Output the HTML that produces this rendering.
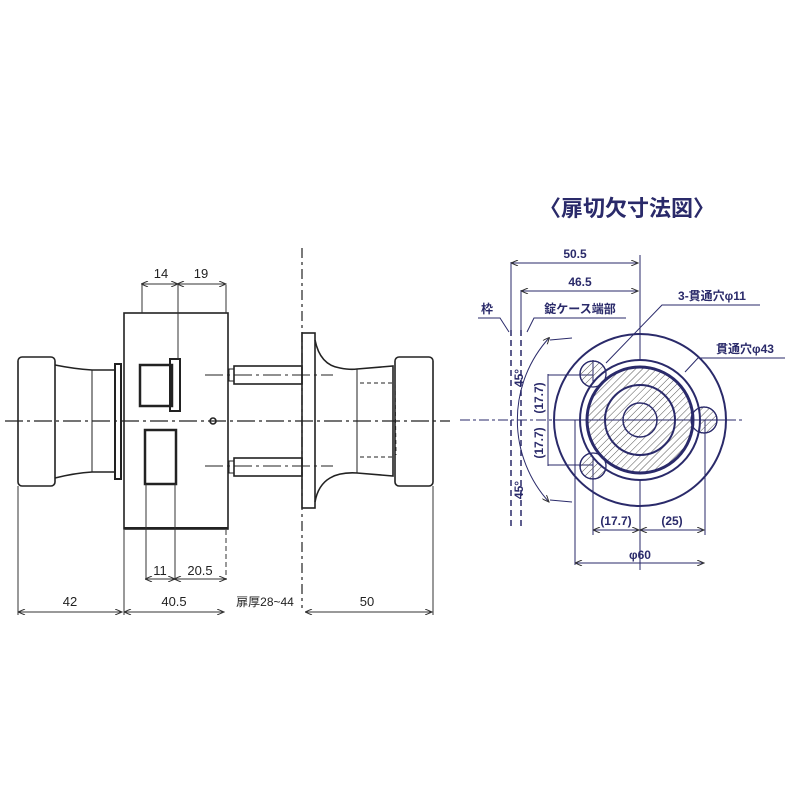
<!DOCTYPE html>
<html><head><meta charset="utf-8"><style>
html,body{margin:0;padding:0;background:#fff;}
svg{display:block}
text{font-family:"Liberation Sans","Noto Sans CJK JP",sans-serif;}
</style></head><body>
<svg width="800" height="800" viewBox="0 0 800 800" xmlns="http://www.w3.org/2000/svg">
<defs>
<pattern id="h" width="5" height="5" patternUnits="userSpaceOnUse" patternTransform="rotate(45)">
<line x1="0" y1="0" x2="0" y2="5" stroke="#555" stroke-width="1"/>
</pattern>
<marker id="a" markerWidth="8" markerHeight="6" refX="7" refY="3" orient="auto"><path d="M0,0 L7,3 L0,6" fill="none" stroke="#333" stroke-width="1"/></marker>
<marker id="as" markerWidth="8" markerHeight="6" refX="1" refY="3" orient="auto"><path d="M7,0 L0,3 L7,6" fill="none" stroke="#333" stroke-width="1"/></marker>
</defs>
<!-- LEFT DRAWING -->
<g stroke="#222" fill="none" stroke-width="1.6">
<line x1="5" y1="421" x2="450" y2="421" stroke-width="1.2" stroke-dasharray="18,4,3,4"/>
<line x1="302" y1="248" x2="302" y2="608" stroke-width="1.2" stroke-dasharray="10,4,3,4"/>
<rect x="18" y="357" width="37" height="129" rx="4"/>
<path d="M55,365 Q75,369 92,370 L115,370 L115,472 L92,472 Q75,473 55,478"/>
<line x1="92" y1="370" x2="92" y2="472" stroke-width="1"/>
<rect x="115" y="364" width="6" height="115" stroke-width="2"/>
<rect x="124" y="313" width="104" height="216"/>
<line x1="124" y1="528" x2="228" y2="528" stroke-width="2"/>
<rect x="140" y="365" width="32" height="41" stroke-width="2.5"/>
<rect x="170" y="359" width="10" height="52" stroke-width="2"/>
<rect x="145" y="430" width="31" height="54" stroke-width="2.5"/>
<circle cx="213" cy="421" r="3"/>
<rect x="229" y="369" width="5" height="12" stroke-width="1"/>
<rect x="229" y="461" width="5" height="12" stroke-width="1"/>
<rect x="234" y="366" width="68" height="18"/>
<rect x="234" y="458" width="68" height="18"/>
<line x1="205" y1="375" x2="333" y2="375" stroke-width="1" stroke-dasharray="18,4,3,4"/>
<line x1="205" y1="466" x2="333" y2="466" stroke-width="1" stroke-dasharray="18,4,3,4"/>
<rect x="302" y="333" width="13" height="175"/>
<path d="M315,340 Q320,365 340,368 Q350,370 357,369 L393,366 L393,476 L357,473 Q340,472 330,478 Q318,485 315,502"/>
<line x1="357" y1="369" x2="357" y2="473" stroke-width="1"/>
<rect x="395" y="357" width="38" height="129" rx="4"/>
<path d="M360,383 L393,383 M360,457 L393,457 M395,384 L396,455" stroke-width="1" stroke-dasharray="4,3"/>
</g>
<g stroke="#333" stroke-width="1" fill="none">
<line x1="142" y1="285" x2="142" y2="313"/><line x1="178" y1="285" x2="178" y2="359"/><line x1="226" y1="285" x2="226" y2="313"/>
<line x1="142" y1="284" x2="178" y2="284" marker-start="url(#as)" marker-end="url(#a)"/>
<line x1="178" y1="284" x2="226" y2="284" marker-start="url(#as)" marker-end="url(#a)"/>
<line x1="146" y1="484" x2="146" y2="580"/><line x1="175" y1="484" x2="175" y2="580"/><line x1="226" y1="530" x2="226" y2="580" stroke-dasharray="5,3"/>
<line x1="146" y1="579" x2="175" y2="579" marker-start="url(#as)" marker-end="url(#a)"/>
<line x1="175" y1="579" x2="226" y2="579" marker-start="url(#as)" marker-end="url(#a)"/>
<line x1="18" y1="486" x2="18" y2="615"/><line x1="124" y1="530" x2="124" y2="615"/><line x1="433" y1="486" x2="433" y2="615"/>
<line x1="19" y1="612" x2="122" y2="612" marker-start="url(#as)" marker-end="url(#a)"/>
<line x1="125" y1="612" x2="224" y2="612" marker-start="url(#as)" marker-end="url(#a)"/>
<line x1="306" y1="612" x2="432" y2="612" marker-start="url(#as)" marker-end="url(#a)"/>
</g>
<g font-size="13" fill="#222" text-anchor="middle">
<text x="161" y="278">14</text><text x="201" y="278">19</text>
<text x="160" y="575">11</text><text x="200" y="575">20.5</text>
<text x="70" y="606">42</text><text x="174" y="606">40.5</text>
<text x="265" y="606" font-size="12">扉厚28~44</text><text x="367" y="606">50</text>
</g>
<!-- RIGHT DRAWING -->
<text x="627" y="216" font-size="22" font-weight="bold" fill="#2a2a6a" text-anchor="middle" font-family="'Noto Sans CJK JP',sans-serif">〈扉切欠寸法図〉</text>
<g stroke="#2a2a6a" fill="none" stroke-width="1">
<line x1="460" y1="420" x2="745" y2="420" stroke-dasharray="10,3,3,3"/>
<line x1="640" y1="255" x2="640" y2="570"/>
<line x1="511" y1="262" x2="511" y2="330"/>
<line x1="521" y1="290" x2="521" y2="330"/>
<line x1="511" y1="330" x2="511" y2="530" stroke-width="1.5" stroke-dasharray="6,4"/>
<line x1="521" y1="330" x2="521" y2="530" stroke-width="1.5" stroke-dasharray="6,4"/>
<line x1="512" y1="263" x2="638" y2="263" marker-start="url(#as)" marker-end="url(#a)"/>
<line x1="522" y1="291" x2="638" y2="291" marker-start="url(#as)" marker-end="url(#a)"/>
<path d="M478,318 L500,318 L509,332 M527,332 L534,318 L626,318"/>
<path d="M606,363 L662,305 L760,305"/>
<path d="M685,372 L698,358 L785,358"/>
<path d="M549,338 A122,122 0 0 0 549,502" marker-start="url(#as)" marker-end="url(#a)"/>
<path d="M550,340 L572,338 M550,500 L572,502"/>
<line x1="548" y1="374" x2="548" y2="466"/>
<path d="M548,375 L593,375 M548,465 L593,465" />
<line x1="593" y1="360" x2="593" y2="535"/>
<line x1="705" y1="420" x2="705" y2="535"/>
<line x1="575" y1="420" x2="575" y2="565"/>
<line x1="594" y1="530" x2="639" y2="530" marker-start="url(#as)" marker-end="url(#a)"/>
<line x1="641" y1="530" x2="704" y2="530" marker-start="url(#as)" marker-end="url(#a)"/>
<line x1="576" y1="563" x2="704" y2="563" marker-start="url(#as)" marker-end="url(#a)"/>
<circle cx="640" cy="420" r="86" stroke-width="2"/>
<circle cx="593" cy="374" r="13" fill="url(#h)" stroke-width="1.3"/>
<circle cx="593" cy="466" r="13" fill="url(#h)" stroke-width="1.3"/>
<circle cx="704" cy="420" r="13" fill="url(#h)" stroke-width="1.3"/>
<circle cx="640" cy="420" r="60" fill="#fff" stroke-width="2"/>
<circle cx="640" cy="420" r="53" fill="url(#h)" stroke-width="3"/>
<circle cx="640" cy="420" r="35" stroke-width="2"/>
<circle cx="640" cy="420" r="17" stroke-width="1.5"/>
<circle cx="593" cy="374" r="13" stroke-width="1.3"/>
<circle cx="593" cy="466" r="13" stroke-width="1.3"/>
<circle cx="704" cy="420" r="13" stroke-width="1.3"/>
<line x1="555" y1="420" x2="725" y2="420"/>
</g>
<g font-size="12" font-weight="bold" fill="#2a2a6a" text-anchor="middle" font-family="'Liberation Sans','Noto Sans CJK JP',sans-serif">
<text x="575" y="258">50.5</text><text x="580" y="286">46.5</text>
<text x="487" y="313">枠</text><text x="580" y="313">錠ケース端部</text>
<text x="712" y="300">3-貫通穴φ11</text><text x="745" y="353">貫通穴φ43</text>
<text transform="translate(523,378) rotate(-90)">45°</text>
<text transform="translate(523,490) rotate(-90)">45°</text>
<text transform="translate(543,398) rotate(-90)">(17.7)</text>
<text transform="translate(543,443) rotate(-90)">(17.7)</text>
<text x="616" y="525">(17.7)</text><text x="672" y="525">(25)</text>
<text x="640" y="559">φ60</text>
</g>
</svg>
</body></html>
